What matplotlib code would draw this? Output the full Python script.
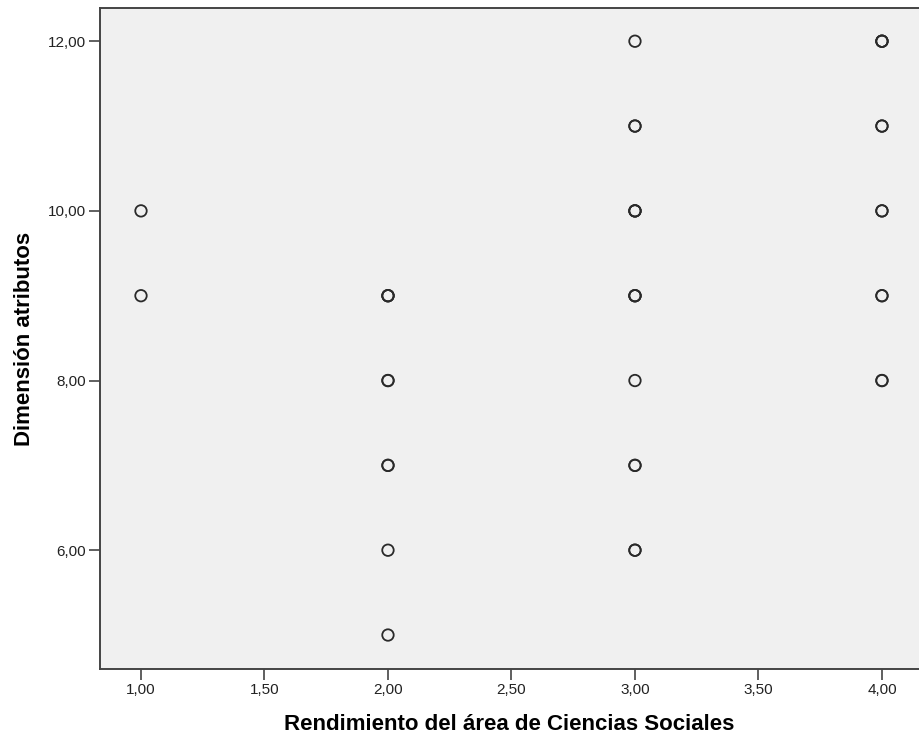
import numpy as np
import matplotlib.pyplot as plt

plt.rcParams['font.family'] = ['Liberation Sans', 'DejaVu Sans']

# Rendimiento (x), Dimension atributos (y), and how many cases overlap at each point
rendimiento = [1, 1, 2, 2, 2, 2, 2, 3, 3, 3, 3, 3, 3, 3, 4, 4, 4, 4, 4]
dimension = [10, 9, 9, 8, 7, 6, 5, 12, 11, 10, 9, 8, 7, 6, 12, 11, 10, 9, 8]
frecuencia = [1, 1, 3, 2, 2, 1, 1, 1, 2, 3, 3, 1, 2, 2, 3, 2, 2, 2, 2]

x_ticks = [1.0, 1.5, 2.0, 2.5, 3.0, 3.5, 4.0]
y_ticks = [6, 8, 10, 12]

x = np.repeat(rendimiento, frecuencia)
y = np.repeat(dimension, frecuencia)

fig = plt.figure(figsize=(9.19, 7.4), dpi=100)
ax = fig.add_axes([0.1088, 0.096, 0.8912, 0.893])
ax.set_facecolor('#f0f0f0')

# draw each case separately so overlaps get darker like in SPSS
for xi, yi in zip(x, y):
    ax.scatter([xi], [yi], s=68, facecolors='none', edgecolors='#2a2a2a',
               linewidths=1.3, zorder=3)

ax.set_xlim(0.834, 4.15)
ax.set_ylim(4.60, 12.39)
ax.set_xticks(x_ticks)
ax.set_xticklabels([f'{v:.2f}'.replace('.', ',') for v in x_ticks])
ax.set_yticks(y_ticks)
ax.set_yticklabels([f'{v:.2f}'.replace('.', ',') for v in y_ticks])

for side in ['left', 'bottom', 'top']:
    ax.spines[side].set_color('#444444')
    ax.spines[side].set_linewidth(1.4)
ax.spines['right'].set_visible(False)
ax.tick_params(direction='out', length=8, width=1.2, color='#444444',
               labelsize=11, labelcolor='#222222', pad=2)

ax.set_xlabel('Rendimiento del área de Ciencias Sociales', fontsize=16,
              fontweight='bold', labelpad=12)
ax.set_ylabel('Dimensión atributos', fontsize=16, fontweight='bold', labelpad=9)

fig.savefig('out.png', dpi=100)
